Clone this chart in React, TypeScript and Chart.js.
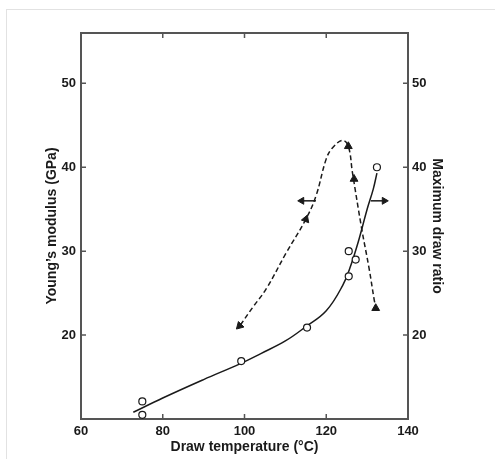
import React, { useEffect, useRef } from "react";
import { Chart, registerables } from "chart.js";
Chart.register(...registerables);

// Young's modulus (left axis, open circles)
const modulusTemp = [75, 75, 99.2, 115.3, 125.5, 125.5, 127.2, 132.4];
const modulusValue = [12.1, 10.5, 16.9, 20.9, 30.0, 27.0, 29.0, 40.0];
// Maximum draw ratio (right axis, filled triangles)
const ratioTemp = [98.8, 115, 125.4, 126.8, 132.1];
const ratioValue = [21.1, 33.8, 42.5, 38.6, 23.2];
const ratioMarkerRotation = [225, 20, 0, 0, 0];
// fitted curves
const modulusFitTemp = [72.8, 80, 90, 99, 104, 110, 115, 120, 124, 126, 128, 130, 131.5, 132.4];
const modulusFitValue = [10.8, 12.5, 14.7, 16.6, 17.8, 19.3, 21.0, 22.9, 25.9, 28.3, 31.4, 35.0, 37.4, 39.3];
const ratioFitTemp = [99, 102, 105.3, 110.2, 115, 117.5, 120, 121.5, 124, 125.4, 126.4, 128.7, 130.5, 131.7, 132.1];
const ratioFitValue = [21.2, 23.3, 25.5, 29.8, 33.8, 36.6, 41.0, 42.3, 43.2, 42.5, 39.4, 32.6, 27.9, 24.3, 23.4];
// axis-indicator arrows
const leftArrowTemp = [117.5, 114.0];
const leftArrowValue = [36, 36];
const rightArrowTemp = [130.9, 134.2];
const rightArrowValue = [36, 36];
// ticks
const xTicks = [60, 80, 100, 120, 140];
const yTicks = [20, 30, 40, 50];

const FONT = "'Liberation Sans', Arial, sans-serif";
const INK = "#1a1a1a";
const AXIS = "#555";

const pts = (xs: number[], ys: number[]) => xs.map((x, i) => ({ x, y: ys[i] }));

const framePlugin = {
  id: "frame",
  beforeDatasetsDraw(chart: any) {
    const { ctx, chartArea: a, scales } = chart;
    ctx.save();
    ctx.strokeStyle = AXIS;
    ctx.lineWidth = 2;
    ctx.strokeRect(a.left, a.top, a.right - a.left, a.bottom - a.top);
    ctx.lineWidth = 1.5;
    ctx.beginPath();
    xTicks.slice(1, -1).forEach((v) => {
      const px = scales.x.getPixelForValue(v);
      ctx.moveTo(px, a.bottom);
      ctx.lineTo(px, a.bottom - 5);
      ctx.moveTo(px, a.top);
      ctx.lineTo(px, a.top + 5);
    });
    yTicks.forEach((v) => {
      const py = scales.y.getPixelForValue(v);
      ctx.moveTo(a.left, py);
      ctx.lineTo(a.left + 5, py);
      const py2 = scales.y2.getPixelForValue(v);
      ctx.moveTo(a.right, py2);
      ctx.lineTo(a.right - 5, py2);
    });
    ctx.stroke();
    ctx.restore();
  },
};

export default function App() {
  const ref = useRef<HTMLCanvasElement>(null);
  useEffect(() => {
    if (!ref.current) return;
    const tickFont = { family: FONT, size: 13, weight: "bold" as const };
    const titleFont = { family: FONT, size: 14, weight: "bold" as const };
    const chart = new Chart(ref.current, {
      type: "scatter",
      data: {
        datasets: [
          {
            data: pts(modulusTemp, modulusValue),
            yAxisID: "y",
            pointStyle: "circle",
            pointRadius: 3.5,
            pointBorderWidth: 1.2,
            pointBackgroundColor: "#fff",
            pointBorderColor: INK,
            showLine: false,
            clip: false,
          },
          {
            data: pts(ratioTemp, ratioValue),
            yAxisID: "y2",
            pointStyle: "triangle",
            pointRadius: 4.5,
            pointRotation: ratioMarkerRotation,
            pointBorderWidth: 1,
            pointBackgroundColor: INK,
            pointBorderColor: INK,
            showLine: false,
            clip: false,
          },
          {
            data: pts(modulusFitTemp, modulusFitValue),
            yAxisID: "y",
            showLine: true,
            pointRadius: 0,
            borderColor: INK,
            borderWidth: 1.5,
            tension: 0.4,
            clip: false,
          },
          {
            data: pts(ratioFitTemp, ratioFitValue),
            yAxisID: "y2",
            showLine: true,
            pointRadius: 0,
            borderColor: INK,
            borderWidth: 1.5,
            borderDash: [5, 3],
            tension: 0.4,
            clip: false,
          },
          {
            data: pts(leftArrowTemp, leftArrowValue),
            yAxisID: "y",
            showLine: true,
            borderColor: INK,
            borderWidth: 1.5,
            pointStyle: "triangle",
            pointRadius: [0, 4],
            pointRotation: [0, 270],
            pointBackgroundColor: INK,
            pointBorderColor: INK,
            pointBorderWidth: 1,
          },
          {
            data: pts(rightArrowTemp, rightArrowValue),
            yAxisID: "y",
            showLine: true,
            borderColor: INK,
            borderWidth: 1.5,
            pointStyle: "triangle",
            pointRadius: [0, 4],
            pointRotation: [0, 90],
            pointBackgroundColor: INK,
            pointBorderColor: INK,
            pointBorderWidth: 1,
          },
        ],
      },
      options: {
        animation: false,
        responsive: false,
        events: [],
        layout: { padding: { top: 33, left: 0, right: 0, bottom: 0 } },
        plugins: { legend: { display: false }, tooltip: { enabled: false } },
        scales: {
          x: {
            type: "linear",
            min: 60,
            max: 140,
            afterBuildTicks: (s: any) => {
              s.ticks = xTicks.map((v) => ({ value: v }));
            },
            afterFit: (s: any) => {
              s.height = 40;
            },
            grid: { display: false, drawTicks: false },
            border: { display: false },
            ticks: { font: tickFont, color: INK, padding: 5, maxRotation: 0 },
            title: {
              display: true,
              text: "Draw temperature (°C)",
              font: titleFont,
              color: INK,
              padding: { top: 0, bottom: 3 },
            },
          },
          y: {
            type: "linear",
            position: "left",
            min: 10,
            max: 56,
            afterBuildTicks: (s: any) => {
              s.ticks = yTicks.map((v) => ({ value: v }));
            },
            afterFit: (s: any) => {
              s.width = 81;
            },
            grid: { display: false, drawTicks: false },
            border: { display: false },
            ticks: { font: tickFont, color: INK, padding: 5 },
            title: {
              display: true,
              text: "Young’s modulus (GPa)",
              font: titleFont,
              color: INK,
              padding: { top: 44, bottom: 0 },
            },
          },
          y2: {
            type: "linear",
            position: "right",
            min: 10,
            max: 56,
            afterBuildTicks: (s: any) => {
              s.ticks = yTicks.map((v) => ({ value: v }));
            },
            afterFit: (s: any) => {
              s.width = 87;
            },
            grid: { display: false, drawTicks: false },
            border: { display: false },
            ticks: { font: tickFont, color: INK, padding: 4 },
            title: {
              display: true,
              text: "Maximum draw ratio",
              font: titleFont,
              color: INK,
              padding: { top: 50, bottom: 0 },
            },
          },
        },
      },
      plugins: [framePlugin],
    } as any);
    return () => chart.destroy();
  }, []);

  return (
    <div style={{ position: "fixed", left: 0, top: 0, width: 495, height: 459, background: "#fff" }}>
      <div
        style={{
          position: "absolute",
          left: 6,
          top: 9,
          right: 0,
          bottom: 0,
          borderLeft: "1px solid #e2e2e2",
          borderTop: "1px solid #e2e2e2",
        }}
      />
      <canvas ref={ref} width={495} height={459} style={{ position: "absolute", left: 0, top: 0 }} />
    </div>
  );
}
